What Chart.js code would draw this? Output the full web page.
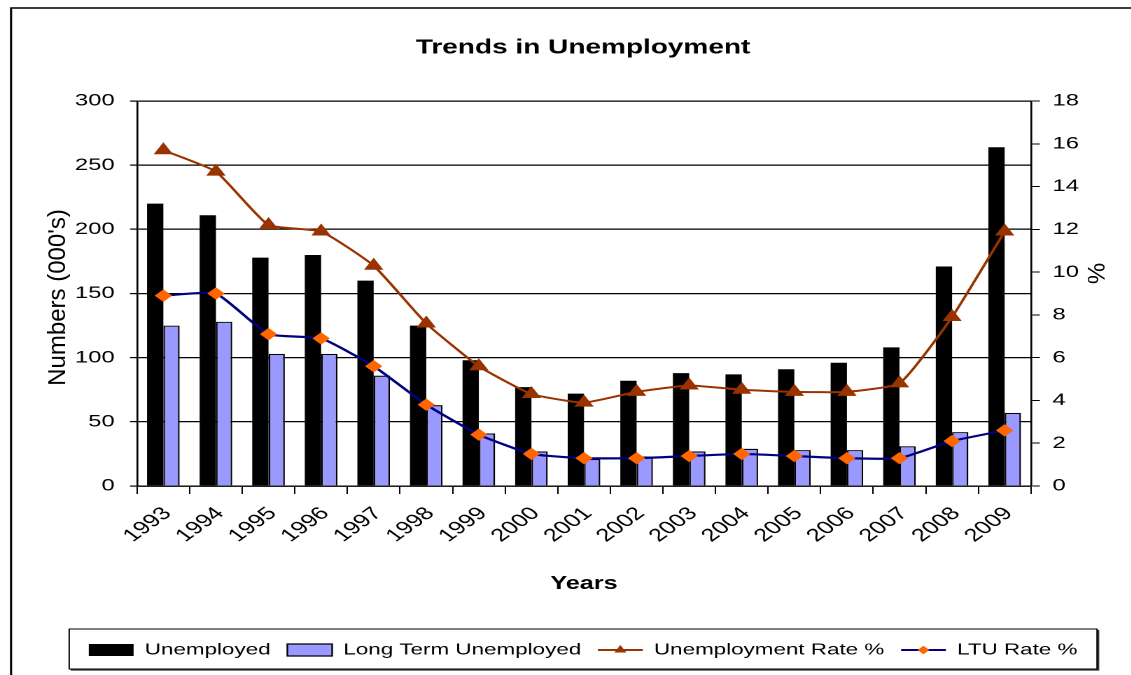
<!DOCTYPE html>
<html>
<head>
<meta charset="utf-8">
<script src="https://cdn.jsdelivr.net/npm/chart.js@4/dist/chart.umd.min.js"></script>
<style>
  html, body { margin: 0; padding: 0; background: #fff; overflow: hidden; }
  #wrap { width: 1131px; height: 675px; overflow: hidden; position: relative; }
  /* the chart is laid out on a narrower canvas and stretched to the page width */
  #c { transform: scaleX(1.4); transform-origin: 0 0; display: block; }
</style>
</head>
<body>
<div id="wrap"><canvas id="c" width="808" height="675"></canvas></div>
<script>
// ---- data -----------------------------------------------------------
const years = ['1993','1994','1995','1996','1997','1998','1999','2000','2001',
               '2002','2003','2004','2005','2006','2007','2008','2009'];

// numbers in thousands
const unemployed = [220, 211, 178, 180, 160, 125, 98, 77, 72, 82, 88, 87, 91, 96, 108, 171, 264];
const longTermUnemployed = [125, 128, 103, 103, 86, 63, 41, 27, 21, 23, 27, 29, 28, 28, 31, 42, 57];

// rates in percent
const unemploymentRate = [15.7, 14.7, 12.2, 11.9, 10.3, 7.6, 5.6, 4.3, 3.9, 4.4, 4.7, 4.5, 4.4, 4.4, 4.8, 7.9, 11.9];
const ltuRate = [8.9, 9.0, 7.1, 6.9, 5.6, 3.8, 2.4, 1.5, 1.3, 1.3, 1.4, 1.5, 1.4, 1.3, 1.3, 2.1, 2.6];

// axis ranges
const numbersAxis = { min: 0, max: 300, step: 50 };
const rateAxis = { min: 0, max: 18, step: 2 };

// ---- styling --------------------------------------------------------
const FONT = "'Liberation Sans', Arial, sans-serif";
const STRETCH = 1.4;           // horizontal stretch applied to the canvas by CSS
Chart.defaults.font.family = FONT;
Chart.defaults.color = '#000';

const C_UNEMP = '#000000';
const C_LTU = '#9999FF';
const C_RATE = '#993300';
const C_LTU_LINE = '#000080';
const C_LTU_PT = '#FF6600';

const LEGEND_BOX_W = 32;

function trianglePath(ctx, x, y, r) {
  ctx.beginPath();
  for (let k = 0; k < 3; k++) {
    const a = -Math.PI / 2 + k * 2 * Math.PI / 3;
    const px = x + r * Math.cos(a), py = y + r * Math.sin(a);
    if (k === 0) ctx.moveTo(px, py); else ctx.lineTo(px, py);
  }
  ctx.closePath();
}
function diamondPath(ctx, x, y, r) {
  ctx.beginPath();
  ctx.moveTo(x, y - r);
  ctx.lineTo(x + r, y);
  ctx.lineTo(x, y + r);
  ctx.lineTo(x - r, y);
  ctx.closePath();
}

// vertical axis title, drawn with the stretch undone so glyphs keep their shape
function verticalTitle(ctx, text, x, y, size) {
  ctx.save();
  ctx.translate(x, y);
  ctx.scale(1 / STRETCH, 1);
  ctx.rotate(-Math.PI / 2);
  ctx.font = size + 'px ' + FONT;
  ctx.fillStyle = '#000';
  ctx.textAlign = 'center';
  ctx.textBaseline = 'middle';
  ctx.fillText(text, 0, 0);
  ctx.restore();
}

// page frame, axis titles, legend border and line samples in the legend
const decor = {
  id: 'decor',
  beforeDraw(chart) {
    const ctx = chart.ctx;
    ctx.save();
    ctx.fillStyle = '#fff';
    ctx.fillRect(0, 0, chart.width, chart.height);
    ctx.strokeStyle = '#000';
    ctx.lineWidth = 1.5;
    ctx.beginPath();
    ctx.moveTo(7.9, chart.height);
    ctx.lineTo(7.9, 8);
    ctx.lineTo(chart.width, 8);
    ctx.stroke();
    ctx.restore();
  },
  afterDraw(chart) {
    const ctx = chart.ctx;
    const ca = chart.chartArea;
    verticalTitle(ctx, "Numbers (000's)", chart.scales.y.left + 17, (ca.top + ca.bottom) / 2 + 4, 24);
    verticalTitle(ctx, '%', chart.scales.y1.right - 23.5, (ca.top + ca.bottom) / 2 - 20, 24);

    const lg = chart.legend;
    if (!lg || !lg.legendHitBoxes || !lg.legendHitBoxes.length) return;
    const hbs = lg.legendHitBoxes;
    const first = hbs[0], last = hbs[hbs.length - 1];
    const x0 = first.left - 14, x1 = last.left + last.width + 14;
    const y0 = lg.top - 1, y1 = lg.bottom + 1;
    ctx.save();
    ctx.strokeStyle = '#000';
    ctx.lineWidth = 1;
    ctx.strokeRect(x0, y0, x1 - x0, y1 - y0);
    ctx.lineWidth = 1.2;
    ctx.strokeStyle = '#333';
    ctx.beginPath();
    ctx.moveTo(x0 + 1, y1 + 1); ctx.lineTo(x1 + 1, y1 + 1); ctx.lineTo(x1 + 1, y0 + 1);
    ctx.stroke();

    // line samples
    const samples = [
      { i: 2, line: C_RATE, fill: C_RATE, shape: 'tri' },
      { i: 3, line: C_LTU_LINE, fill: C_LTU_PT, shape: 'dia' }
    ];
    samples.forEach(s => {
      const hb = hbs[s.i];
      const cy = hb.top + 8;
      const lx0 = hb.left, lx1 = hb.left + LEGEND_BOX_W;
      ctx.strokeStyle = s.line;
      ctx.lineWidth = 2;
      ctx.beginPath();
      ctx.moveTo(lx0, cy); ctx.lineTo(lx1, cy);
      ctx.stroke();
      ctx.fillStyle = s.fill;
      if (s.shape === 'tri') trianglePath(ctx, (lx0 + lx1) / 2, cy, 5);
      else diamondPath(ctx, (lx0 + lx1) / 2, cy, 4.2);
      ctx.fill();
    });
    ctx.restore();
  }
};

const ctx = document.getElementById('c').getContext('2d');
new Chart(ctx, {
  type: 'bar',
  data: {
    labels: years,
    datasets: [
      {
        label: 'Unemployed',
        data: unemployed,
        backgroundColor: C_UNEMP,
        borderColor: C_UNEMP,
        borderWidth: 0,
        yAxisID: 'y',
        order: 2,
        categoryPercentage: 0.62,
        barPercentage: 1.0
      },
      {
        label: 'Long Term Unemployed',
        data: longTermUnemployed,
        backgroundColor: C_LTU,
        borderColor: '#000',
        borderWidth: 1.2,
        yAxisID: 'y',
        order: 2,
        categoryPercentage: 0.62,
        barPercentage: 1.0
      },
      {
        type: 'line',
        label: 'Unemployment Rate %',
        data: unemploymentRate,
        borderColor: C_RATE,
        backgroundColor: C_RATE,
        borderWidth: 2,
        pointStyle: 'triangle',
        pointRadius: 7,
        pointBackgroundColor: C_RATE,
        pointBorderColor: C_RATE,
        pointBorderWidth: 1,
        tension: 0.15,
        yAxisID: 'y1',
        order: 1
      },
      {
        type: 'line',
        label: 'LTU Rate %',
        data: ltuRate,
        borderColor: C_LTU_LINE,
        backgroundColor: C_LTU_PT,
        borderWidth: 2.2,
        pointStyle: 'rectRot',
        pointRadius: 5.5,
        pointBackgroundColor: C_LTU_PT,
        pointBorderColor: C_LTU_PT,
        pointBorderWidth: 1,
        tension: 0.15,
        yAxisID: 'y1',
        order: 0
      }
    ]
  },
  options: {
    responsive: false,
    animation: false,
    devicePixelRatio: 2,
    layout: { padding: { left: 25, right: 0, top: 0, bottom: 7 } },
    plugins: {
      title: {
        display: true,
        text: 'Trends in Unemployment',
        color: '#000',
        font: { size: 20, weight: 'bold' },
        padding: { top: 36, bottom: 41 }
      },
      legend: {
        position: 'bottom',
        labels: {
          boxWidth: LEGEND_BOX_W,
          boxHeight: 12,
          padding: 12,
          color: '#000',
          font: { size: 16 },
          sort: (a, b) => a.datasetIndex - b.datasetIndex,
          generateLabels(chart) {
            const items = Chart.defaults.plugins.legend.labels.generateLabels(chart);
            items.forEach(it => {
              if (it.datasetIndex === 0) {
                it.fillStyle = C_UNEMP; it.strokeStyle = C_UNEMP; it.lineWidth = 0;
              } else if (it.datasetIndex === 1) {
                it.fillStyle = C_LTU; it.strokeStyle = '#000'; it.lineWidth = 1.2;
              } else {
                it.fillStyle = 'rgba(0,0,0,0)'; it.strokeStyle = 'rgba(0,0,0,0)'; it.lineWidth = 0;
              }
            });
            return items;
          }
        }
      },
      tooltip: { enabled: false }
    },
    scales: {
      x: {
        offset: true,
        grid: { display: true, drawOnChartArea: false, offset: true, tickLength: 8, color: '#000', lineWidth: 1 },
        border: { display: true, color: '#000', width: 1.3 },
        ticks: { minRotation: 45, maxRotation: 45, autoSkip: false, padding: 9, labelOffset: 3, color: '#000', font: { size: 18 } },
        title: { display: true, text: 'Years', color: '#000', font: { size: 18, weight: 'bold' }, padding: { top: 4, bottom: 35 } },
        afterFit(s) { s.height = 144; }
      },
      y: {
        position: 'left',
        min: numbersAxis.min,
        max: numbersAxis.max,
        ticks: { stepSize: numbersAxis.step, padding: 11, color: '#000', font: { size: 17 } },
        grid: { color: '#000', lineWidth: 1.2, tickLength: 5 },
        border: { color: '#000', width: 1.3 },
        afterFit(s) { s.width = 72.9; }
      },
      y1: {
        position: 'right',
        min: rateAxis.min,
        max: rateAxis.max,
        ticks: { stepSize: rateAxis.step, padding: 9, color: '#000', font: { size: 17 } },
        grid: { drawOnChartArea: false, color: '#000', lineWidth: 1, tickLength: 6.4 },
        border: { color: '#000', width: 1.3 },
        afterFit(s) { s.width = 71.6; }
      }
    }
  },
  plugins: [decor]
});
</script>
</body>
</html>
